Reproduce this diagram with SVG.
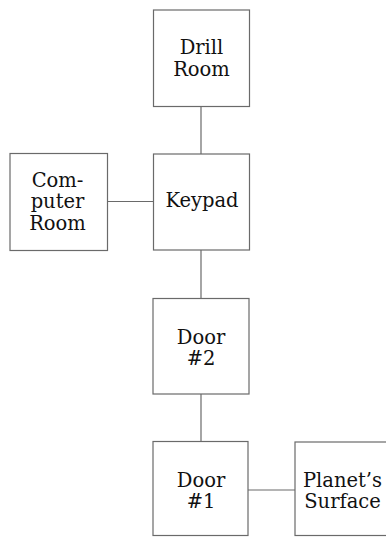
<svg xmlns="http://www.w3.org/2000/svg" width="386" height="537" viewBox="0 0 386 537">
<style>
.box{fill:#fff;stroke:#6a6a6a;stroke-width:1.2}
.con{stroke:#6a6a6a;stroke-width:1.2;fill:none}
text{font-family:"DejaVu Serif","Liberation Serif",serif;font-size:19.5px;fill:#111;text-anchor:middle}
</style>
<rect width="386" height="537" fill="#fff"/>
<g id="connectors">
<line class="con" x1="201" y1="106.5" x2="201" y2="154"/>
<line class="con" x1="201" y1="250" x2="201" y2="298.5"/>
<line class="con" x1="201" y1="394" x2="201" y2="441.5"/>
<line class="con" x1="107.5" y1="201.5" x2="153.5" y2="201.5"/>
<line class="con" x1="248" y1="490" x2="295" y2="490"/>
</g>
<g id="drill-room">
<rect class="box" x="153.5" y="10" width="96" height="96.5"/>
<text x="201.5" y="54">Drill</text>
<text x="201.5" y="75.7">Room</text>
</g>
<g id="keypad">
<rect class="box" x="153.5" y="154" width="96" height="96"/>
<text x="202" y="207.3">Keypad</text>
</g>
<g id="computer-room">
<rect class="box" x="10" y="153.5" width="97.5" height="97"/>
<text x="57.5" y="186.5">Com-</text>
<text x="57.5" y="208">puter</text>
<text x="57.5" y="230">Room</text>
</g>
<g id="door-2">
<rect class="box" x="153" y="298.5" width="96" height="95.5"/>
<text x="201" y="343.7">Door</text>
<text x="201" y="365.2">#2</text>
</g>
<g id="door-1">
<rect class="box" x="153" y="441.5" width="95" height="94"/>
<text x="201" y="486.8">Door</text>
<text x="201" y="508.3">#1</text>
</g>
<g id="planets-surface">
<rect class="box" x="295" y="442" width="100" height="93.5"/>
<text x="342.5" y="486.8">Planet’s</text>
<text x="342.5" y="508.3">Surface</text>
</g>
</svg>
